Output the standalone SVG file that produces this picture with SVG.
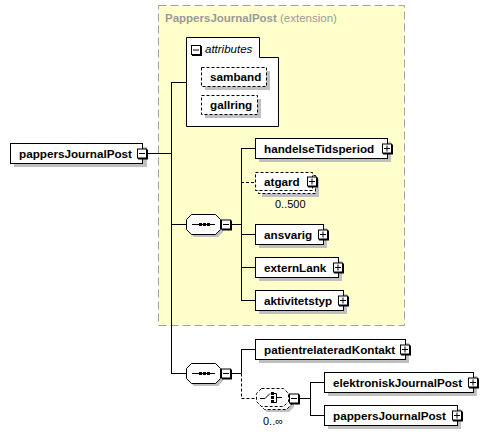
<svg xmlns="http://www.w3.org/2000/svg" width="503" height="435" viewBox="0 0 503 435">
<style>
.el{fill:#fff;stroke:#000;stroke-width:1}
.opt{fill:#fff;stroke:#000;stroke-width:1;stroke-dasharray:3,2}
.sh{fill:#c0c0c0}
.ln{stroke:#000;stroke-width:1;fill:none}
.dl{stroke:#000;stroke-width:1;fill:none;stroke-dasharray:3,2}
.t{font-family:"Liberation Sans",Arial,sans-serif;font-size:11.7px;font-weight:bold;fill:#000}
.n{font-family:"Liberation Sans",Arial,sans-serif;font-size:11px;fill:#000}
.btn{fill:#fff;stroke:#000;stroke-width:1}
</style>
<defs>
<g id="minus"><rect x="1" y="1" width="10" height="10" fill="#000"/><rect class="btn" x="0.5" y="0.5" width="9" height="9"/><line x1="2" y1="5" x2="8" y2="5" stroke="#000"/></g>
<g id="plus"><rect x="1" y="1" width="10" height="10" fill="#000"/><rect class="btn" x="0.5" y="0.5" width="9" height="9"/><line x1="2" y1="5" x2="8" y2="5" stroke="#000"/><line x1="5" y1="2" x2="5" y2="8" stroke="#000"/></g>
</defs>
<rect width="503" height="435" fill="#fff"/>

<g id="extension">
<rect x="158.5" y="5.5" width="246" height="320" fill="#ffffcc" stroke="#a0a0a0" stroke-dasharray="8,4"/>
<text x="165" y="22" font-family="Liberation Sans,Arial,sans-serif" font-size="11.5px" fill="#999"><tspan font-weight="bold">PappersJournalPost</tspan> (extension)</text>
</g>

<g id="connectors">
<line class="ln" x1="147" y1="153.5" x2="171.5" y2="153.5"/>
<line class="ln" x1="171.5" y1="82.5" x2="171.5" y2="373.5"/>
<line class="ln" x1="171" y1="82.5" x2="186" y2="82.5"/>
<line class="ln" x1="171" y1="224.5" x2="186" y2="224.5"/>
<line class="ln" x1="171" y1="373.5" x2="186" y2="373.5"/>
<line class="ln" x1="231" y1="224.5" x2="241.5" y2="224.5"/>
<line class="ln" x1="241.5" y1="148.5" x2="241.5" y2="300.5"/>
<line class="ln" x1="241" y1="148.5" x2="255" y2="148.5"/>
<line class="dl" x1="241" y1="182.5" x2="255" y2="182.5"/>
<line class="ln" x1="241" y1="234.5" x2="255" y2="234.5"/>
<line class="ln" x1="241" y1="267.5" x2="255" y2="267.5"/>
<line class="ln" x1="241" y1="300.5" x2="255" y2="300.5"/>
<line class="ln" x1="231" y1="373.5" x2="241.5" y2="373.5"/>
<line class="ln" x1="241.5" y1="349.5" x2="241.5" y2="373.5"/>
<line class="ln" x1="241" y1="349.5" x2="255" y2="349.5"/>
<polyline class="dl" points="241.5,373.5 241.5,398.5 256,398.5"/>
<line class="ln" x1="299" y1="398.5" x2="310.5" y2="398.5"/>
<line class="ln" x1="310.5" y1="382.5" x2="310.5" y2="415.5"/>
<line class="ln" x1="310" y1="382.5" x2="324" y2="382.5"/>
<line class="ln" x1="310" y1="415.5" x2="324" y2="415.5"/>
</g>

<g id="root">
<rect class="sh" x="14" y="147" width="133" height="20"/>
<rect class="el" x="10.5" y="143.5" width="132" height="20"/>
<text class="t" x="19" y="157.5">pappersJournalPost</text>
<use href="#minus" x="137" y="148.5"/>
</g>

<g id="attributes">
<path d="M186.5,37.5 H259.5 V57.5 H278.5 V126.5 H186.5 Z" fill="#fff" stroke="#000"/>
<use href="#minus" x="191" y="45"/>
<text x="205" y="53" font-family="Liberation Sans,Arial,sans-serif" font-size="11.5px" font-style="italic">attributes</text>
</g>

<g id="samband">
<rect class="sh" x="205" y="71" width="65" height="19"/>
<rect class="opt" x="201.5" y="67.5" width="65" height="19"/>
<text class="t" x="210" y="81">samband</text>
</g>

<g id="gallring">
<rect class="sh" x="205" y="99" width="56" height="19"/>
<rect class="opt" x="201.5" y="95.5" width="56" height="19"/>
<text class="t" x="210" y="109">gallring</text>
</g>

<g id="sequence1">
<path class="sh" d="M194,217 H218 L223,222 V232 L218,237 H194 L189,232 V222 Z"/>
<path class="el" d="M191.5,214.5 H215.5 L220.5,219.5 V229.5 L215.5,234.5 H191.5 L186.5,229.5 V219.5 Z"/>
<line class="ln" x1="192" y1="224.5" x2="215" y2="224.5"/>
<rect x="199" y="223" width="3" height="3"/><rect x="203" y="223" width="3" height="3"/><rect x="207" y="223" width="3" height="3"/>
<use href="#minus" x="221" y="219.5"/>
</g>

<g id="handelseTidsperiod">
<rect class="sh" x="259" y="142" width="132" height="20"/>
<rect class="el" x="255.5" y="138.5" width="132" height="20"/>
<text class="t" x="264" y="152.5">handelseTidsperiod</text>
<use href="#plus" x="382" y="143.5"/>
</g>

<g id="atgard">
<rect class="sh" x="262" y="179" width="57" height="18"/>
<rect class="opt" x="258.5" y="175.5" width="57" height="18"/>
<rect class="opt" x="255.5" y="172.5" width="57" height="18"/>
<text class="t" x="264" y="186">atgard</text>
<use href="#plus" x="307" y="176.5"/>
<text class="n" x="275" y="208">0..500</text>
</g>

<g id="ansvarig">
<rect class="sh" x="259" y="228" width="68" height="20"/>
<rect class="el" x="255.5" y="224.5" width="68" height="20"/>
<text class="t" x="264" y="238.5">ansvarig</text>
<use href="#plus" x="318" y="229.5"/>
</g>

<g id="externLank">
<rect class="sh" x="259" y="261" width="83" height="20"/>
<rect class="el" x="255.5" y="257.5" width="83" height="20"/>
<text class="t" x="264" y="271.5">externLank</text>
<use href="#plus" x="333" y="262.5"/>
</g>

<g id="aktivitetstyp">
<rect class="sh" x="259" y="294" width="88" height="20"/>
<rect class="el" x="255.5" y="290.5" width="88" height="20"/>
<text class="t" x="264" y="304.5">aktivitetstyp</text>
<use href="#plus" x="338" y="295.5"/>
</g>

<g id="sequence2">
<path class="sh" d="M194,366 H218 L223,371 V381 L218,386 H194 L189,381 V371 Z"/>
<path class="el" d="M191.5,363.5 H215.5 L220.5,368.5 V378.5 L215.5,383.5 H191.5 L186.5,378.5 V368.5 Z"/>
<line class="ln" x1="192" y1="373.5" x2="215" y2="373.5"/>
<rect x="199" y="372" width="3" height="3"/><rect x="203" y="372" width="3" height="3"/><rect x="207" y="372" width="3" height="3"/>
<use href="#minus" x="221" y="368.5"/>
</g>

<g id="patientrelateradKontakt">
<rect class="sh" x="259" y="343" width="150" height="20"/>
<rect class="el" x="255.5" y="339.5" width="150" height="20"/>
<text class="t" x="264" y="353.5">patientrelateradKontakt</text>
<use href="#plus" x="400" y="344.5"/>
</g>

<g id="choice">
<path class="sh" d="M267,394 H289 L294,399 V407 L289,412 H267 L262,407 V399 Z"/>
<path class="opt" d="M264.5,391.5 H286.5 L291.5,396.5 V404.5 L286.5,409.5 H264.5 L259.5,404.5 V396.5 Z"/>
<path class="opt" d="M261.5,388.5 H283.5 L288.5,393.5 V401.5 L283.5,406.5 H261.5 L256.5,401.5 V393.5 Z"/>
<polyline class="ln" points="260,398.5 265,398.5 270,393.5"/>
<rect x="271" y="392" width="3" height="3"/><rect x="271" y="396" width="3" height="3"/><rect x="271" y="400" width="3" height="3"/>
<polyline class="ln" points="274,393.5 276.5,393.5 276.5,402.5 274,402.5"/>
<line class="ln" x1="276" y1="397.5" x2="282" y2="397.5"/>
<use href="#minus" x="289" y="393.5"/>
<text class="n" x="263" y="425">0..∞</text>
</g>

<g id="elektroniskJournalPost">
<rect class="sh" x="328" y="376" width="149" height="20"/>
<rect class="el" x="324.5" y="372.5" width="149" height="20"/>
<text class="t" x="333" y="386.5">elektroniskJournalPost</text>
<use href="#plus" x="468" y="377.5"/>
</g>

<g id="pappersJournalPost2">
<rect class="sh" x="328" y="409" width="133" height="20"/>
<rect class="el" x="324.5" y="405.5" width="133" height="20"/>
<text class="t" x="333" y="419.5">pappersJournalPost</text>
<use href="#plus" x="452" y="410.5"/>
</g>
</svg>
